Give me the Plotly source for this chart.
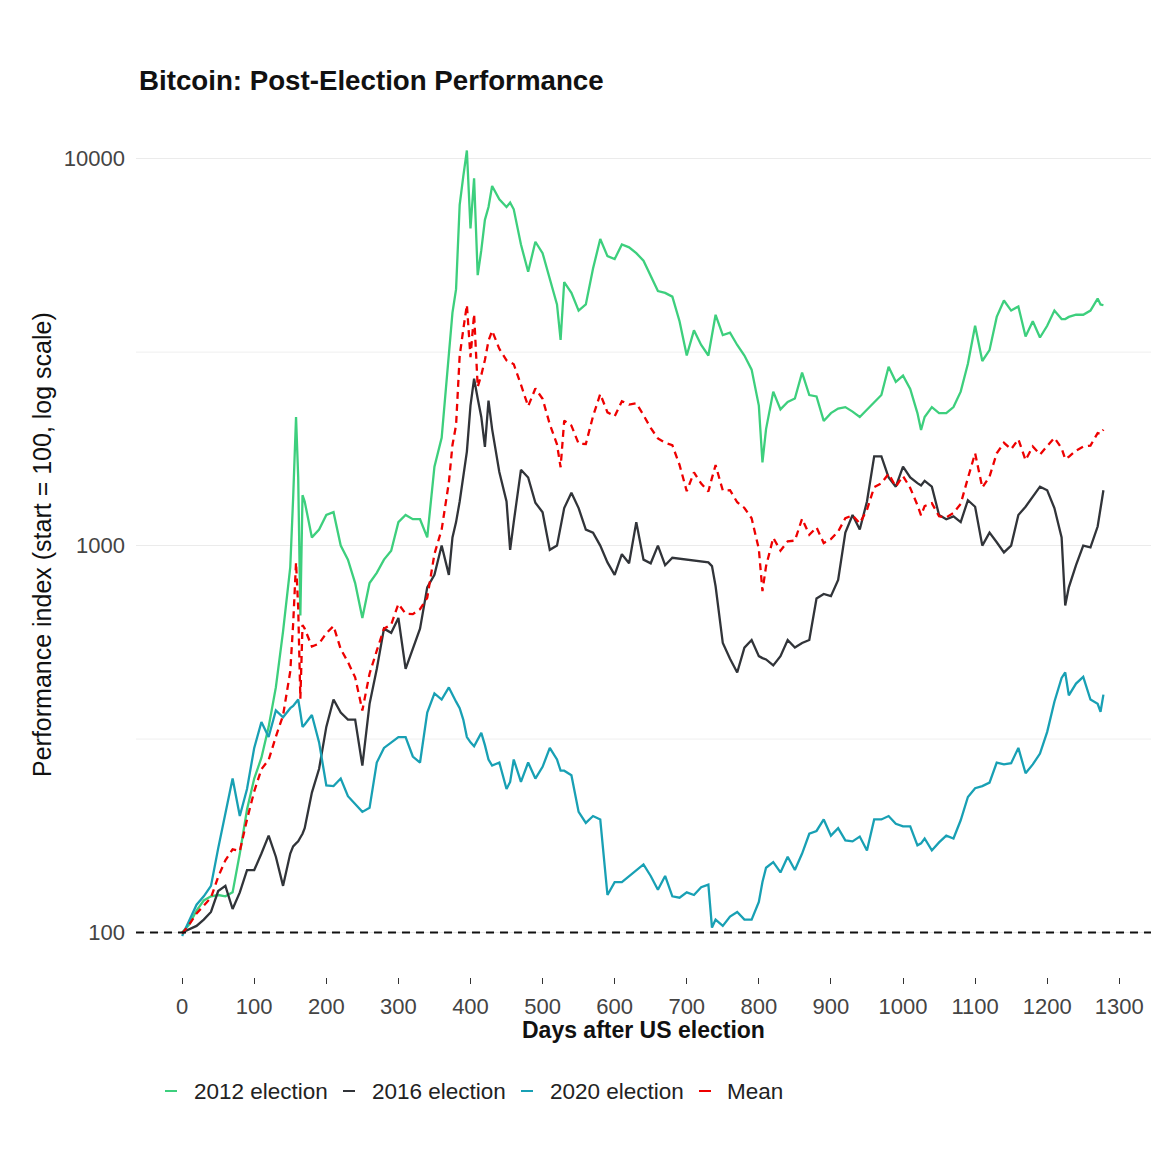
import numpy as np
import plotly.graph_objects as go

# ---------------- data ----------------
days = [
    0, 10, 20, 30, 40, 50, 60, 70, 80, 90,
    100, 110, 120, 130, 140, 150, 154, 158, 161, 164,
    167, 170, 180, 190, 200, 210, 220, 230, 240, 250,
    260, 270, 280, 290, 300, 310, 320, 330, 340, 350,
    360, 370, 375, 380, 385, 390, 395, 400, 405, 410,
    415, 420, 425, 430, 440, 450, 455, 460, 470, 480,
    490, 500, 510, 520, 525, 530, 540, 550, 560, 570,
    580, 590, 600, 610, 620, 630, 640, 650, 660, 670,
    680, 690, 700, 710, 720, 730, 735, 740, 750, 760,
    770, 780, 790, 800, 805, 810, 820, 830, 840, 850,
    860, 870, 880, 890, 900, 910, 920, 930, 940, 950,
    960, 970, 980, 990, 1000, 1010, 1020, 1025, 1030, 1040,
    1050, 1060, 1070, 1080, 1090, 1100, 1110, 1120, 1130, 1140,
    1150, 1160, 1170, 1180, 1190, 1200, 1210, 1220, 1225, 1230,
    1240, 1250, 1260, 1270, 1274, 1278,
]

idx_2012 = [
    100, 105, 114, 121, 124, 125, 124, 127, 160, 208,
    250, 283, 340, 430, 600, 880, 1330, 2150, 1500, 660,
    1350, 1300, 1050, 1100, 1200, 1220, 1000, 920, 800, 650,
    800, 850, 920, 970, 1150, 1200, 1170, 1170, 1050, 1600,
    1900, 3100, 4000, 4600, 7600, 9000, 10500, 6600, 8900, 5000,
    5800, 6950, 7500, 8500, 7850, 7500, 7700, 7400, 6000, 5100,
    6100, 5700, 4900, 4200, 3400, 4800, 4500, 4050, 4200, 5200,
    6200, 5600, 5500, 6000, 5900, 5700, 5450, 5000, 4550, 4500,
    4400, 3800, 3100, 3600, 3300, 3100, 3500, 3950, 3500, 3550,
    3300, 3100, 2850, 2300, 1640, 2000, 2500, 2250, 2350, 2400,
    2800, 2450, 2430, 2100, 2200, 2260, 2280, 2220, 2150, 2250,
    2350, 2450, 2900, 2650, 2750, 2540, 2200, 1990, 2150, 2280,
    2200, 2200, 2280, 2500, 2950, 3700, 3000, 3200, 3900, 4300,
    4050, 4150, 3470, 3800, 3450, 3700, 4050, 3850, 3850, 3900,
    3950, 3950, 4050, 4350, 4200, 4180,
]

idx_2016 = [
    100, 102, 104, 108, 113, 128, 132, 115, 127, 145,
    145, 160, 178, 157, 132, 160, 167, 170, 172, 176,
    180, 186, 230, 265, 340, 400, 370, 355, 355, 270,
    390, 480, 610, 595, 650, 480, 540, 610, 780, 840,
    1000, 840, 1050, 1150, 1300, 1500, 1750, 2300, 2700, 2400,
    2150, 1800, 2370, 2000, 1550, 1300, 975, 1150, 1570, 1500,
    1290, 1220, 975, 1000, 1120, 1250, 1370, 1250, 1100, 1080,
    1000, 905, 840, 950, 900, 1150, 920, 900, 1000, 890,
    930, 925, 920, 912, 910, 905, 885, 785, 560, 510,
    470, 545, 570, 518, 512, 508, 490, 518, 570, 545,
    560, 570, 730, 750, 740, 815, 1080, 1200, 1100, 1300,
    1700, 1700, 1500, 1420, 1600, 1500, 1450, 1430, 1470, 1420,
    1200, 1170, 1190, 1150, 1310, 1260, 1000, 1080, 1020, 960,
    1000, 1200, 1260, 1340, 1420, 1390, 1250, 1050, 700, 780,
    890, 1000, 990, 1120, 1260, 1390,
]

idx_2020 = [
    98, 108, 118, 124, 132, 165, 205, 250, 200, 235,
    300, 350, 320, 375, 360, 380, 385, 395, 400, 370,
    340, 345, 365, 310, 240, 239, 250, 225, 215, 205,
    210, 275, 300, 310, 320, 320, 285, 275, 370, 415,
    400, 430, 410, 395, 380, 355, 320, 310, 303, 315,
    328, 305, 280, 270, 275, 235, 245, 280, 245, 275,
    250, 268, 300, 280, 262, 262, 255, 205, 192, 200,
    196, 125, 135, 135, 140, 145, 150, 140, 129, 140,
    124, 123, 127, 125, 131, 133, 103, 108, 104, 110,
    113, 108, 108, 120, 135, 147, 152, 143, 157, 145,
    160, 180, 183, 196, 178, 186, 173, 172, 177, 163,
    196, 196, 200, 191, 188, 188, 168, 170, 175, 163,
    171, 178, 175, 195, 224, 236, 239, 244, 275, 272,
    274, 300, 258, 272, 290, 330, 395, 455, 470, 410,
    440, 458, 400, 390, 372, 412,
]

series_names = ["2012 election", "2016 election", "2020 election", "Mean"]
y_tick_vals = [100, 1000, 10000]
y_minor_vals = [316.23, 3162.3]
x_tick_vals = list(range(0, 1301, 100))
baseline = 100

assert len(days) == len(idx_2012) == len(idx_2016) == len(idx_2020)

# the mean line is the average of the three election series
idx_mean = np.mean(np.array([idx_2012, idx_2016, idx_2020], dtype=float), axis=0)

# ---------------- styling ----------------
FONT = "Liberation Sans, Arial, sans-serif"
COLORS = ["#3dcf7d", "#313439", "#18a0b4", "#ee0000"]

OFF = 8                       # browser body margin
FIG_W, FIG_H = 1157, 1156
L, R, T, B = 128, 14, 100, 187
PW, PH = FIG_W - L - R, FIG_H - T - B


def px_x(wx):
    return (wx - OFF - L) / PW


def px_y(wy):
    return 1 - (wy - OFF - T) / PH


fig = go.Figure()
for name, vals, col in zip(series_names[:3], [idx_2012, idx_2016, idx_2020], COLORS[:3]):
    fig.add_trace(go.Scatter(x=days, y=vals, mode="lines", name=name,
                             line=dict(color=col, width=2.3), showlegend=False))
fig.add_trace(go.Scatter(x=days, y=idx_mean, mode="lines", name=series_names[3],
                         line=dict(color=COLORS[3], width=2.3, dash="7px,5px"),
                         showlegend=False))

shapes = []
# minor gridlines
for v in y_minor_vals:
    shapes.append(dict(type="line", xref="x domain", yref="y", x0=0, x1=1, y0=v, y1=v,
                       line=dict(color="#efefef", width=1), layer="below"))
# dashed baseline at 100
shapes.append(dict(type="line", xref="x domain", yref="y", x0=0, x1=1,
                   y0=baseline, y1=baseline,
                   line=dict(color="#111111", width=2, dash="8px,6px"), layer="above"))

annotations = [
    dict(text="<b>Bitcoin: Post-Election Performance</b>", x=px_x(137), y=px_y(81),
         xref="paper", yref="paper", xanchor="left", yanchor="middle", showarrow=False,
         font=dict(family=FONT, size=27.7, color="#111111")),
    dict(text="Performance index (start = 100, log scale)", x=px_x(42), y=px_y(545),
         xref="paper", yref="paper", xanchor="center", yanchor="middle", textangle=-90,
         showarrow=False, font=dict(family=FONT, size=25, color="#111111")),
    dict(text="<b>Days after US election</b>", x=px_x(643), y=px_y(1030),
         xref="paper", yref="paper", xanchor="center", yanchor="middle", showarrow=False,
         font=dict(family=FONT, size=23, color="#111111")),
]

# manual legend
leg_y = 1091
leg_items = [(165, 192), (343, 370), (521, 548), (699, 725)]
for (sx, tx), name, col in zip(leg_items, series_names, COLORS):
    shapes.append(dict(type="line", xref="paper", yref="paper",
                       x0=px_x(sx), x1=px_x(sx + 12), y0=px_y(leg_y), y1=px_y(leg_y),
                       line=dict(color=col, width=2)))
    annotations.append(dict(text=name, x=px_x(tx), y=px_y(leg_y), xref="paper", yref="paper",
                            xanchor="left", yanchor="middle", showarrow=False,
                            font=dict(family=FONT, size=22.5, color="#222222")))

fig.update_layout(
    width=FIG_W, height=FIG_H,
    margin=dict(l=L, r=R, t=T, b=B, pad=0),
    paper_bgcolor="white", plot_bgcolor="white",
    font=dict(family=FONT, color="#444444"),
    shapes=shapes, annotations=annotations, showlegend=False,
)
fig.update_xaxes(range=[-64, 1344], tickvals=x_tick_vals, showgrid=False, zeroline=False,
                 showline=False, ticks="outside", ticklen=6, tickwidth=1, tickcolor="#333333",
                 ticklabelstandoff=4,
                 tickfont=dict(family=FONT, size=22, color="#444444"))
fig.update_yaxes(type="log", range=[1.885, 4.131], tickvals=y_tick_vals,
                 ticktext=[str(v) for v in y_tick_vals],
                 showgrid=True, gridcolor="#ebebeb", gridwidth=1, zeroline=False,
                 showline=False, ticks="", ticklabelstandoff=10,
                 tickfont=dict(family=FONT, size=22, color="#444444"))

fig.write_html("out.html")
